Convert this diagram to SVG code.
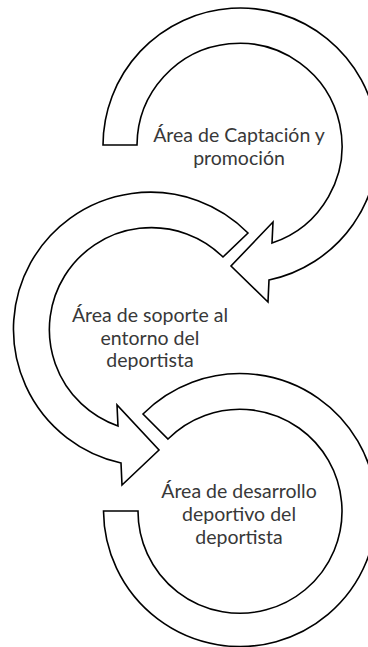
<svg xmlns="http://www.w3.org/2000/svg" width="368" height="647" viewBox="0 0 368 647">
<style>
.arrow{fill:#ffffff;stroke:#000000;stroke-width:1.6;stroke-linejoin:miter}
.lbl{font-family:Lato,"Open Sans","Liberation Sans",sans-serif;font-size:19.5px;fill:#383838;text-anchor:middle}
</style>
<rect width="368" height="647" fill="#ffffff"/>
<g id="connectors"></g>
<g id="node1">
<path class="arrow" d="M 103,145 A 137.5 137.5 0 1 1 269,280 L 268,302 L 231,266 L 273,222 L 272,243 A 102.5 102.5 0 1 0 137,145 Z"/>
<text class="lbl" x="239" y="142">Área de Captación y</text>
<text class="lbl" x="239" y="165">promoción</text>
</g>
<g id="node2">
<path class="arrow" d="M 248,233 A 137 137 0 1 0 121,463 L 122,485 L 159,450 L 117,405 L 118,426 A 102 102 0 1 1 223,257 Z"/>
<text class="lbl" x="150" y="322">Área de soporte al</text>
<text class="lbl" x="150" y="344.5">entorno del</text>
<text class="lbl" x="150" y="367">deportista</text>
</g>
<g id="node3">
<path class="arrow" d="M 143,414 A 136.5 136.5 0 1 1 103.5,511 L 138,511 A 102 102 0 1 0 168,439 Z"/>
<text class="lbl" x="239" y="498">Área de desarrollo</text>
<text class="lbl" x="239" y="521">deportivo del</text>
<text class="lbl" x="239" y="543.5">deportista</text>
</g>
</svg>
